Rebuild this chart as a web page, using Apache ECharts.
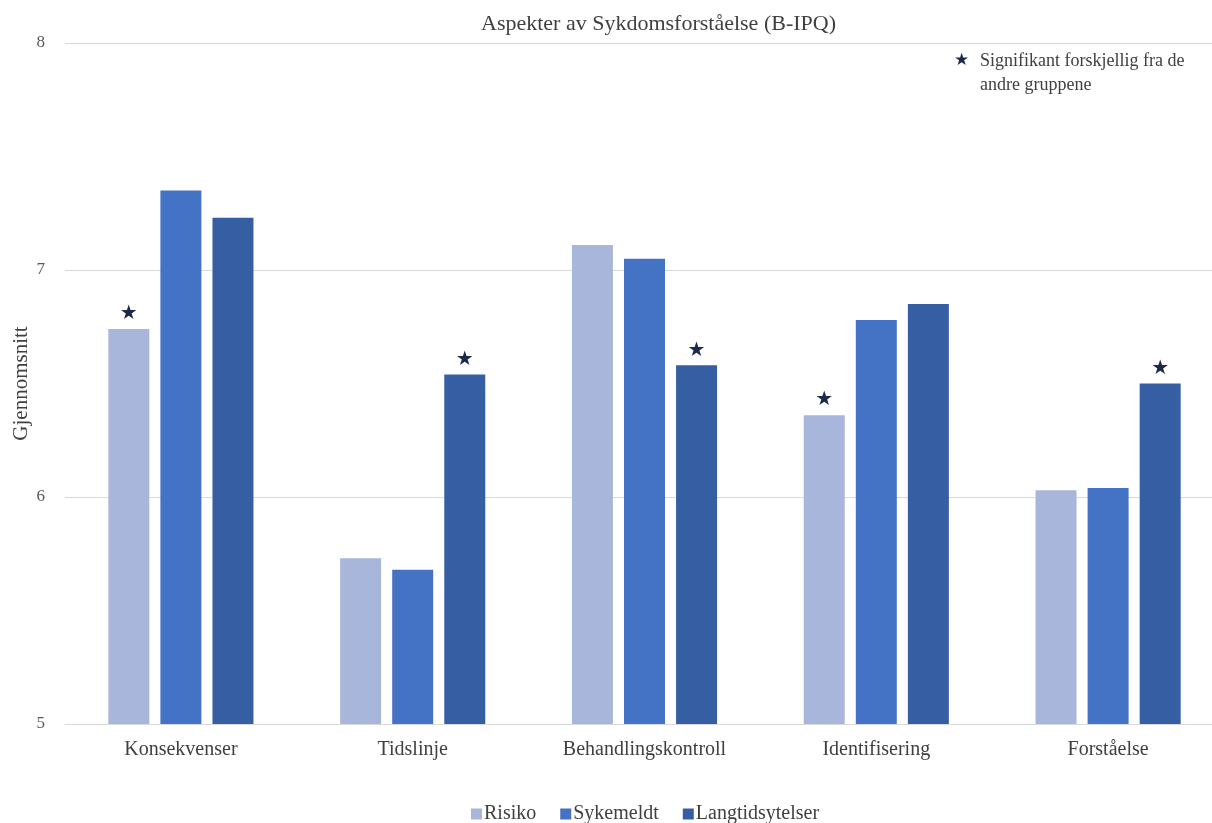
<!DOCTYPE html>
<html>
<head>
<meta charset="utf-8">
<title>Aspekter av Sykdomsforståelse (B-IPQ)</title>
<script src="https://cdn.jsdelivr.net/npm/echarts@6/dist/echarts.min.js"></script>
<style>
  html, body { margin: 0; padding: 0; background: #ffffff; overflow: hidden; }
  #chart { width: 1212px; height: 823px; }
</style>
</head>
<body>
<div id="chart"></div>
<script>
// Categories and group means on the B-IPQ scale
const categories = ['Konsekvenser', 'Tidslinje', 'Behandlingskontroll', 'Identifisering', 'Forståelse'];
const seriesNames = ['Risiko', 'Sykemeldt', 'Langtidsytelser'];
const risiko = [6.74, 5.73, 7.11, 6.36, 6.03];
const sykemeldt = [7.35, 5.68, 7.05, 6.78, 6.04];
const langtidsytelser = [7.23, 6.54, 6.58, 6.85, 6.50];
// Significance flags (true = significantly different from the other groups)
const sigRisiko = [true, false, false, true, false];
const sigSykemeldt = [false, false, false, false, false];
const sigLangtid = [false, true, true, false, true];
const yTicks = [5, 6, 7, 8];

const colors = ['#a8b6db', '#4472c4', '#365ea2'];
const FONT = '"Liberation Serif", "DejaVu Serif", serif';
const STAR_COLOR = '#1b2a4a';

function buildSeries(name, values, flags, color) {
  return {
    name: name,
    type: 'bar',
    barWidth: 41,
    barGap: '27%',
    itemStyle: { color: color },
    data: values.map((v, i) => ({
      value: v,
      label: {
        show: flags[i],
        position: 'top',
        distance: 5,
        formatter: '★',
        color: STAR_COLOR,
        fontSize: 20,
        fontFamily: 'DejaVu Sans'
      }
    }))
  };
}

const chart = echarts.init(document.getElementById('chart'));
chart.setOption({
  backgroundColor: '#ffffff',
  animation: false,
  title: {
    text: 'Aspekter av Sykdomsforståelse (B-IPQ)',
    left: 476,
    top: 8,
    textStyle: { fontFamily: FONT, fontSize: 22, fontWeight: 'normal', color: '#404040' }
  },
  // the plot area runs slightly past the right edge of the canvas
  grid: { left: 65, right: -12, top: 43, bottom: 99, outerBoundsMode: 'none', containLabel: false },
  xAxis: {
    type: 'category',
    data: categories,
    axisLine: { show: true, lineStyle: { color: '#d9d9d9' } },
    axisTick: { show: false },
    axisLabel: { fontFamily: FONT, fontSize: 20, color: '#404040', margin: 16 }
  },
  yAxis: {
    type: 'value',
    min: yTicks[0],
    max: yTicks[yTicks.length - 1],
    interval: 1,
    name: 'Gjennomsnitt',
    nameLocation: 'middle',
    nameGap: 33,
    nameMoveOverlap: false,
    nameRotate: 90,
    nameTextStyle: { fontFamily: FONT, fontSize: 21, color: '#404040' },
    axisLine: { show: false },
    axisTick: { show: false },
    axisLabel: { fontFamily: FONT, fontSize: 17, color: '#595959', margin: 20 },
    splitLine: { lineStyle: { color: '#d9d9d9' } }
  },
  legend: {
    bottom: -6,
    left: 466,
    itemWidth: 11,
    itemHeight: 11,
    itemGap: 24,
    icon: 'rect',
    data: seriesNames,
    textStyle: { fontFamily: FONT, fontSize: 20, color: '#404040', padding: [0, 0, 0, -3] }
  },
  graphic: [
    {
      type: 'text',
      left: 954,
      top: 52,
      style: { text: '★', fontSize: 17, fontFamily: 'DejaVu Sans', fill: STAR_COLOR }
    },
    {
      type: 'text',
      left: 980,
      top: 49,
      style: {
        text: 'Signifikant forskjellig fra de\nandre gruppene',
        fontSize: 18,
        lineHeight: 24,
        fontFamily: FONT,
        fill: '#404040'
      }
    }
  ],
  series: [
    buildSeries(seriesNames[0], risiko, sigRisiko, colors[0]),
    buildSeries(seriesNames[1], sykemeldt, sigSykemeldt, colors[1]),
    buildSeries(seriesNames[2], langtidsytelser, sigLangtid, colors[2])
  ]
});
</script>
</body>
</html>
